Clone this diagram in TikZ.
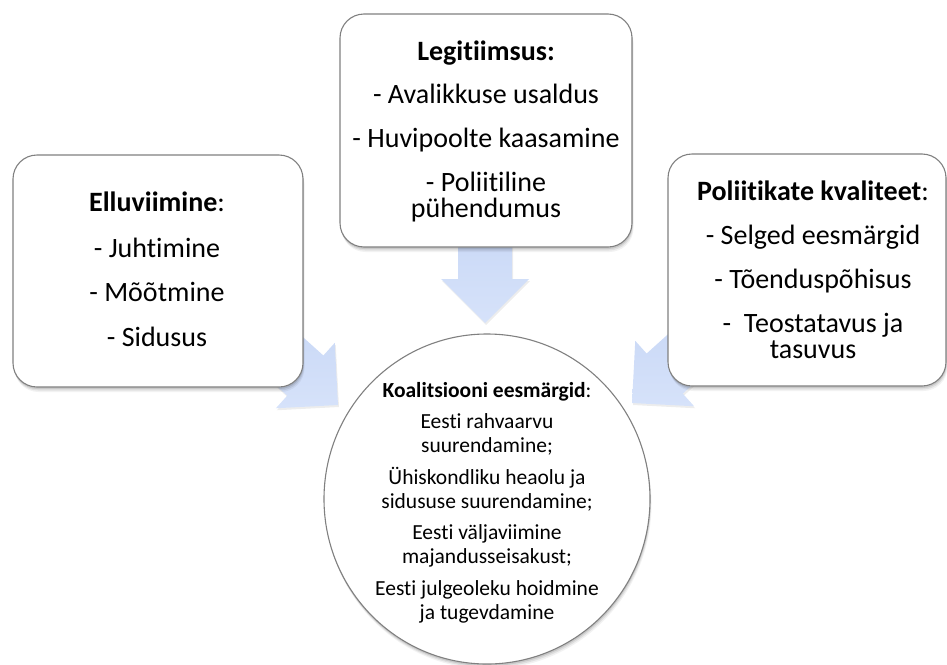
\documentclass[tikz,border=0pt]{standalone}
\usepackage{fontspec}
\setmainfont{Carlito}[Ligatures=NoCommon]
\usetikzlibrary{shapes.geometric}
\definecolor{boxgray}{RGB}{128,128,128}
\definecolor{arrowblue}{RGB}{198,214,245}
\definecolor{arrowblueB}{RGB}{214,226,250}
\begin{document}
\begin{tikzpicture}[x=1pt,y=1pt,
  softshadow/.style={
    preaction={fill=black,opacity=.05,transform canvas={xshift=1.5pt,yshift=-5pt}},
    preaction={fill=black,opacity=.08,transform canvas={xshift=1pt,yshift=-3.5pt}},
    preaction={fill=black,opacity=.10,transform canvas={xshift=.5pt,yshift=-2pt}}},
  box/.style={rectangle, draw=boxgray, line width=1.1pt, fill=white,
    rounded corners=24pt, inner sep=0pt, softshadow},
  goal/.style={ellipse, draw=boxgray, line width=1.1pt, fill=white,
    inner sep=0pt, softshadow},
  arrowshape/.style={top color=arrowblue, bottom color=arrowblueB,
    preaction={fill=black,opacity=.07,transform canvas={xshift=1pt,yshift=-2pt}}},
  bt/.style={font=\fontsize{28}{30}\selectfont, anchor=base, inner sep=0pt},
  ct/.style={font=\fontsize{21.5}{24}\selectfont, anchor=base, inner sep=0pt},
  bigarrow/.pic={\path[arrowshape] (0,0) -- (-44,44) -- (-44,27) -- (-125,27)
    -- (-125,-27) -- (-44,-27) -- (-44,-44) -- cycle;}
]
\useasboundingbox (0,0) rectangle (947,-664);

% arrows
\pic[rotate=-90] at (485,-323) {bigarrow};
\pic[rotate=-42] at (338,-405) {bigarrow};
\pic[rotate=-138] at (632,-403) {bigarrow};

% boxes
\node[box, minimum width=290pt, minimum height=232pt] (impl) at (158,-271) {};
\node[box, minimum width=292pt, minimum height=233pt] (legit) at (486,-130.5) {};
\node[box, minimum width=278pt, minimum height=232pt] (qual) at (807,-270) {};
\node[goal, minimum width=326pt, minimum height=330pt] (goals) at (487,-499) {};

% left box text
\node[bt] (i1) at (157,-211.7) {\textbf{Elluviimine}:};
\node[bt] (i2) at (157,-257) {- Juhtimine};
\node[bt] (i3) at (157,-301.7) {- Mõõtmine};
\node[bt] (i4) at (157,-346.7) {- Sidusus};

% top box text
\node[bt] (l1) at (486,-60) {\textbf{Legitiimsus:}};
\node[bt] (l2) at (486,-103) {- Avalikkuse usaldus};
\node[bt] (l3) at (486,-147.5) {- Huvipoolte kaasamine};
\node[bt] (l4) at (486,-191.5) {- Poliitiline};
\node[bt] (l5) at (486,-217.5) {pühendumus};

% right box text
\node[bt] (q1) at (813,-200) {\textbf{Poliitikate kvaliteet}:};
\node[bt] (q2) at (813,-244) {- Selged eesmärgid};
\node[bt] (q3) at (813,-288) {- Tõenduspõhisus};
\node[bt] (q4) at (813,-332) {-\ \ Teostatavus ja};
\node[bt] (q5) at (813,-358) {tasuvus};

% circle text
\node[ct] (g1) at (487,-397) {\textbf{Koalitsiooni eesmärgid}:};
\node[ct] (g2) at (487,-428.5) {Eesti rahvaarvu};
\node[ct] (g3) at (487,-452.5) {suurendamine;};
\node[ct] (g4) at (487,-484) {Ühiskondliku heaolu ja};
\node[ct] (g5) at (487,-508) {sidususe suurendamine;};
\node[ct] (g6) at (487,-539.5) {Eesti väljaviimine};
\node[ct] (g7) at (487,-563.5) {majandusseisakust;};
\node[ct] (g8) at (487,-595) {Eesti julgeoleku hoidmine};
\node[ct] (g9) at (487,-619) {ja tugevdamine};
\end{tikzpicture}
\end{document}
